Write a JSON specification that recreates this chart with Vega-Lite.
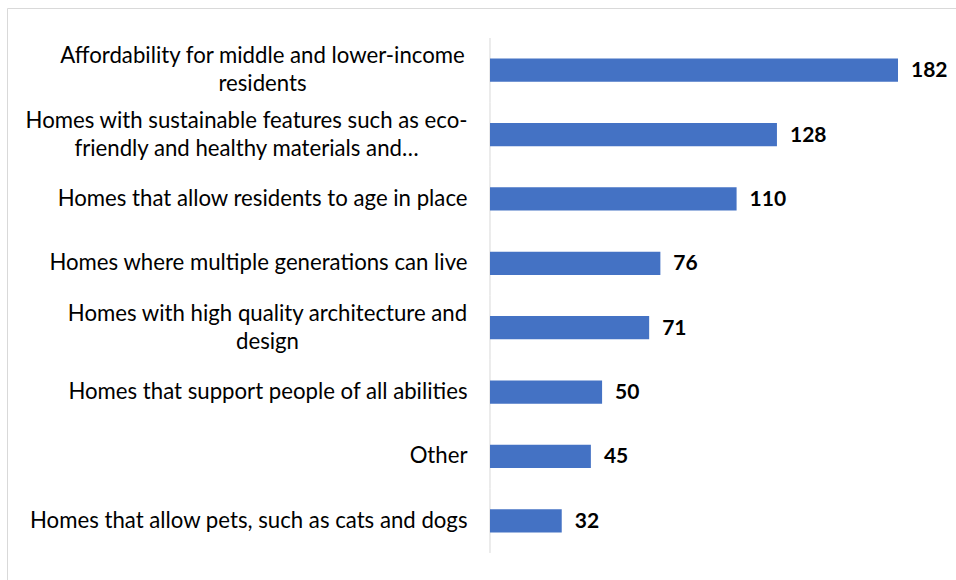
{
  "$schema": "https://vega.github.io/schema/vega-lite/v6.json",
  "width": 949,
  "height": 572,
  "padding": {"left": 7, "top": 8, "right": 0, "bottom": 0},
  "autosize": {"type": "none"},
  "background": "white",
  "config": {"view": {"stroke": null}, "font": "Lato"},
  "data": {"values": [
    {"cat": "Affordability for middle and lower-income|residents", "value": 182},
    {"cat": "Homes with sustainable features such as eco-|friendly and healthy materials and…", "value": 128},
    {"cat": "Homes that allow residents to age in place", "value": 110},
    {"cat": "Homes where multiple generations can live", "value": 76},
    {"cat": "Homes with high quality architecture and|design", "value": 71},
    {"cat": "Homes that support people of all abilities", "value": 50},
    {"cat": "Other", "value": 45},
    {"cat": "Homes that allow pets, such as cats and dogs", "value": 32}
  ]},
  "resolve": {"axis": {"y": "independent"}},
  "layer": [
    {
      "mark": {"type": "rule", "color": "#d9d9d9", "strokeWidth": 1},
      "encoding": {
        "x": {"datum": 0, "type": "quantitative", "scale": {"domain": [-215.45, 207.87], "nice": false, "zero": false}},
        "y": {"field": "cat", "type": "nominal", "sort": null, "bandPosition": 0,
              "scale": {"paddingInner": 0, "paddingOuter": 0.4427, "align": 0.526},
              "axis": {"orient": "right", "offset": -949, "labels": false, "ticks": false, "title": null, "domain": true, "domainColor": "#d9d9d9", "grid": false}},
        "y2": {"field": "cat", "bandPosition": 1}
      }
    },
    {
      "mark": {"type": "bar", "color": "#4472c4", "height": {"band": 0.36}},
      "encoding": {
        "x": {"field": "value", "type": "quantitative",
              "axis": {"orient": "top", "labels": false, "ticks": false, "grid": false, "title": null, "domain": true, "domainColor": "#d9d9d9"}},
        "y": {"field": "cat", "type": "nominal", "sort": null,
              "axis": {"orient": "left", "offset": -483, "domain": false, "ticks": false, "tickSize": 0, "title": null, "grid": false,
                       "labelExpr": "split(datum.label, '|')",
                       "labelFont": "Lato", "labelFontSize": 22.2, "labelColor": "#000000", "labelLimit": 600, "labelLineHeight": 28, "labelBaseline": "middle",
                       "labelAlign": {"condition": {"test": "indexof(datum.value, '|') >= 0", "value": "center"}, "value": "right"},
                       "labelOffset": {"condition": {"test": "indexof(datum.value, '|') >= 0", "value": -14}, "value": 0},
                       "labelPadding": {"condition": [
                         {"test": "indexof(datum.value, 'Affordability') == 0", "value": 228},
                         {"test": "indexof(datum.value, 'Homes with sustainable') == 0", "value": 244},
                         {"test": "indexof(datum.value, 'Homes with high') == 0", "value": 223}
                       ], "value": 23}}}
      }
    },
    {
      "mark": {"type": "text", "align": "left", "baseline": "middle", "dx": 13, "dy": 1, "font": "Lato", "fontSize": 21, "fontWeight": "bold", "color": "#000000"},
      "encoding": {
        "x": {"field": "value", "type": "quantitative"},
        "y": {"field": "cat", "type": "nominal", "sort": null, "axis": null},
        "text": {"field": "value", "type": "quantitative"}
      }
    }
  ]
}
